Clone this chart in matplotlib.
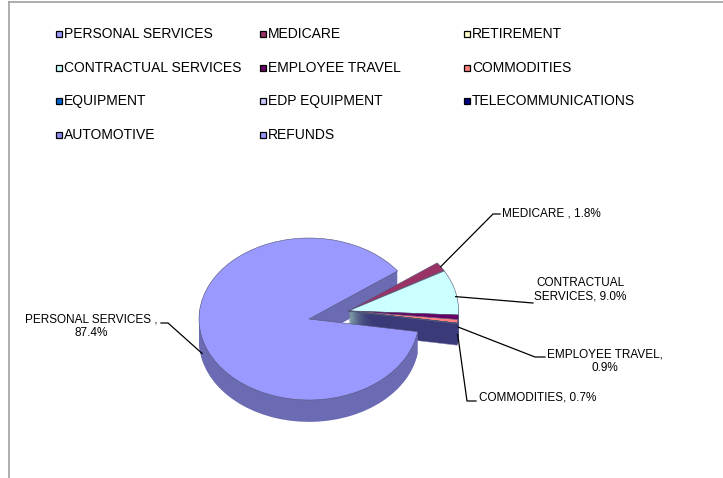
import numpy as np
import matplotlib.pyplot as plt
from matplotlib.patches import Rectangle
from matplotlib.lines import Line2D

plt.rcParams['font.family'] = ['Liberation Sans', 'DejaVu Sans']

# budget categories and their share of the total (%)
categories = ['PERSONAL SERVICES', 'MEDICARE', 'RETIREMENT', 'CONTRACTUAL SERVICES',
              'EMPLOYEE TRAVEL', 'COMMODITIES', 'EQUIPMENT', 'EDP EQUIPMENT',
              'TELECOMMUNICATIONS', 'AUTOMOTIVE', 'REFUNDS']
shares = [87.4, 1.8, 0.1, 9.0, 0.9, 0.7, 0.05, 0.0, 0.05, 0.0, 0.0]
colors = ['#9999FF', '#993366', '#FFFFCC', '#CCFFFF', '#660066', '#FF8080',
          '#0066CC', '#CCCCFF', '#000080', '#8C8CF0', '#9999FF']

# callouts: category index -> label format
callouts = {
    0: 'PERSONAL SERVICES ,\n{:.1f}%',
    1: 'MEDICARE , {:.1f}%',
    3: 'CONTRACTUAL\nSERVICES, {:.1f}%',
    4: 'EMPLOYEE TRAVEL,\n{:.1f}%',
    5: 'COMMODITIES, {:.1f}%',
}

W, H = 723, 478
CX, CY, RX, RY = 309, 319, 110, 81   # pie centre / radii in pixels
DEPTH = 0.27                         # thickness of the pie (y units)
START = -9
OFF = (0.36, 0.10)                   # pull-out of the small slices


def to_data(px, py):
    return (px - CX) / RX, (CY - py) / RY


def darker(c, f=0.7):
    r, g, b = plt.matplotlib.colors.to_rgb(c)
    return (r * f, g * f, b * f)


fig = plt.figure(figsize=(W / 100, H / 100), dpi=100)
ax = fig.add_axes([0, 0, 1, 1])


def draw_pie(dy, cols, **kw):
    wedges, _ = ax.pie(shares, colors=cols, startangle=START, counterclock=False,
                       center=(0, dy), radius=1, wedgeprops=kw)
    for w in wedges[1:]:
        w.set_center((OFF[0], dy + OFF[1]))
    return wedges


# side walls, stacked from the bottom up; the lower small slices share
# one dark wall so the cut face reads as a single surface
side_cols = [darker(c) for c in colors[:4]] + ['#3A3A78'] * (len(colors) - 4)
for dy in np.linspace(-DEPTH, -0.01, 24):
    draw_pie(dy, side_cols, linewidth=0)

top = draw_pie(0, colors, linewidth=0.4, edgecolor='#555577')

ax.set_xlim(-CX / RX, (W - CX) / RX)
ax.set_ylim(-(H - CY) / RY, CY / RY)
ax.set_aspect('auto')
ax.axis('off')

# label placement (pixels): text pos, alignment, leader elbow points, anchor drop
placement = {
    0: ((91, 326), 'center', [(168, 323), (161, 323)], 0.7),
    1: ((502, 214), 'left', [(493, 214), (500, 214)], 0.0),
    3: ((580, 290), 'center', [(533, 303)], 0.2),
    4: ((605, 361), 'center', [(535, 357), (545, 357)], 0.45),
    5: ((479, 397), 'left', [(467, 401), (476, 401)], 0.6),
}

for i, fmt in callouts.items():
    w = top[i]
    mid = np.radians((w.theta1 + w.theta2) / 2)
    cx, cy = w.center
    ax0 = cx + np.cos(mid)
    ay0 = cy + np.sin(mid) - placement[i][3] * DEPTH
    pts = [to_data(*p) for p in placement[i][2]]
    xs = [ax0] + [p[0] for p in pts]
    ys = [ay0] + [p[1] for p in pts]
    ax.plot(xs, ys, color='black', lw=0.9)
    tx, ty = to_data(*placement[i][0])
    ax.text(tx, ty, fmt.format(shares[i]), ha=placement[i][1], va='center',
            multialignment='center', fontsize=8.5)

# legend, three entries per row
for i, (name, col) in enumerate(zip(categories, colors)):
    row, c = divmod(i, 3)
    x = 56 + 204 * c
    y = 34 + 33.7 * row
    fig.add_artist(Rectangle((x / W, 1 - (y + 3) / H), 6 / W, 6 / H,
                             transform=fig.transFigure, facecolor=col,
                             edgecolor='black', linewidth=0.9))
    fig.text((x + 8) / W, 1 - y / H, name, va='center', fontsize=10)

# chart area border (top and left edges only)
fig.add_artist(Line2D([9 / W, 1], [1 - 2 / H, 1 - 2 / H], transform=fig.transFigure,
                      color='#A0A0A0', lw=1.2))
fig.add_artist(Line2D([9 / W, 9 / W], [0, 1 - 2 / H], transform=fig.transFigure,
                      color='#A0A0A0', lw=1.2))

fig.savefig('out.png', dpi=100)
